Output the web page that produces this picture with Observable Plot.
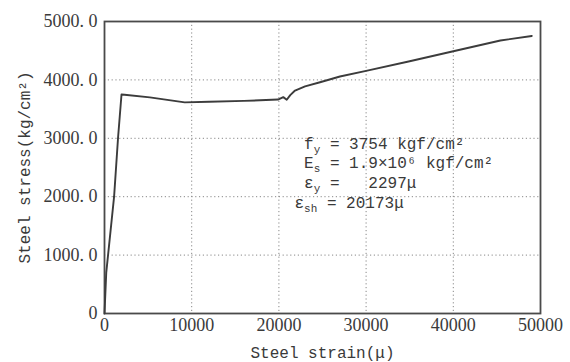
<!DOCTYPE html>
<html><head><meta charset="utf-8">
<script src="https://cdn.jsdelivr.net/npm/d3@7"></script>
<script src="https://cdn.jsdelivr.net/npm/@observablehq/plot@0.6"></script>
<style>
body{margin:0;background:#fff;}
#chart svg{display:block;}
#chart text{white-space:pre;}
</style>
</head><body><div id="chart"></div>
<script>
// Steel strain (μ) and steel stress (kg/cm²)
const strain = [0, 200, 1100, 1550, 1950, 2300, 5200, 9200, 12000, 16000, 19900, 20500, 20900, 21300, 21850, 23000, 24720, 27000, 30000, 35000, 40000, 45400, 49000];
const stress = [0, 700, 2000, 3000, 3750, 3745, 3700, 3615, 3625, 3640, 3664, 3705, 3660, 3740, 3818, 3890, 3960, 4058, 4155, 4320, 4490, 4675, 4752];

const xTicks = [0, 10000, 20000, 30000, 40000, 50000];
const yTicks = [0, 1000, 2000, 3000, 4000, 5000];
const xGrid = [10000, 20000, 30000, 40000];
const yGrid = [1000, 2000, 3000, 4000];

const xLabel = "Steel strain(μ)";
const yLabel = "Steel stress(kg/cm²)";
const annotationLines = [
  " f_{y} = 3754 kgf/cm²",
  " E_{s} = 1.9×10⁶ kgf/cm²",
  " ε_{y} =   2297μ",
  "ε_{sh} = 20173μ"
];

const data = strain.map((x, i) => ({strain: x, stress: stress[i]}));
const ink = "#3a3a3a";
const serif = "'Liberation Serif', 'DejaVu Serif', serif";

const chart = Plot.plot({
  width: 570, height: 362,
  marginLeft: 104, marginRight: 30, marginTop: 21, marginBottom: 49,
  x: {domain: [0, 50000]},
  y: {domain: [0, 5000]},
  style: {background: "#fff", color: ink},
  marks: [
    Plot.gridX(xGrid, {stroke: "#888", strokeOpacity: 1, strokeWidth: 1, strokeDasharray: "1.2,2.6"}),
    Plot.gridY(yGrid, {stroke: "#888", strokeOpacity: 1, strokeWidth: 1, strokeDasharray: "1.2,2.6"}),
    Plot.axisX(xTicks, {tickSize: 0, tickPadding: 5, fontSize: 18, fontFamily: serif, label: null, tickFormat: d => String(d)}),
    Plot.axisY(yTicks, {tickSize: 0, tickPadding: 7, fontSize: 18, fontFamily: serif, label: null,
      tickFormat: d => d === 0 ? "0" : d.toFixed(1).replace(".", ". ")}),
    Plot.frame({stroke: "#4a4a4a", strokeWidth: 1.8}),
    Plot.line(data, {x: "strain", y: "stress", stroke: "#3c3c3c", strokeWidth: 1.9}),
    Plot.text([xLabel], {text: d => d, frameAnchor: "bottom", dy: 44, fontSize: 16, fontFamily: "Liberation Mono", fill: ink}),
    Plot.text([yLabel], {text: d => d, frameAnchor: "left", textAnchor: "middle", rotate: -90, dx: -80, fontSize: 16, fontFamily: "Liberation Mono", fill: ink}),
    Plot.text([annotationLines.join("\n")], {text: d => d, frameAnchor: "top-left", textAnchor: "start", lineAnchor: "top",
      lineHeight: 1.24, dx: 190, dy: 113, fontSize: 16, fontFamily: "Liberation Mono", fill: ink})
  ]
});
document.getElementById("chart").appendChild(chart);

// tick labels in a serif face
d3.select(chart).selectAll("text").filter(function() { return /^[0-9. ]+$/.test(this.textContent); })
  .style("font-family", serif).style("font-size", "18px");

// render _{...} as subscripts inside the annotation lines
d3.select(chart).selectAll("tspan").filter(function() { return this.textContent.includes("_{"); }).each(function() {
  const el = d3.select(this);
  const src = el.text();
  el.text(null);
  const parts = src.split(/(_\{[^}]*\})/);
  let shifted = false;
  parts.forEach(p => {
    if (!p) return;
    const m = p.match(/^_\{([^}]*)\}$/);
    if (m) {
      el.append("tspan").attr("dy", 4).attr("font-size", 11).text(m[1]);
      shifted = true;
    } else {
      const t = el.append("tspan").text(p);
      if (shifted) { t.attr("dy", -4); shifted = false; }
    }
  });
});
</script>
</body></html>
